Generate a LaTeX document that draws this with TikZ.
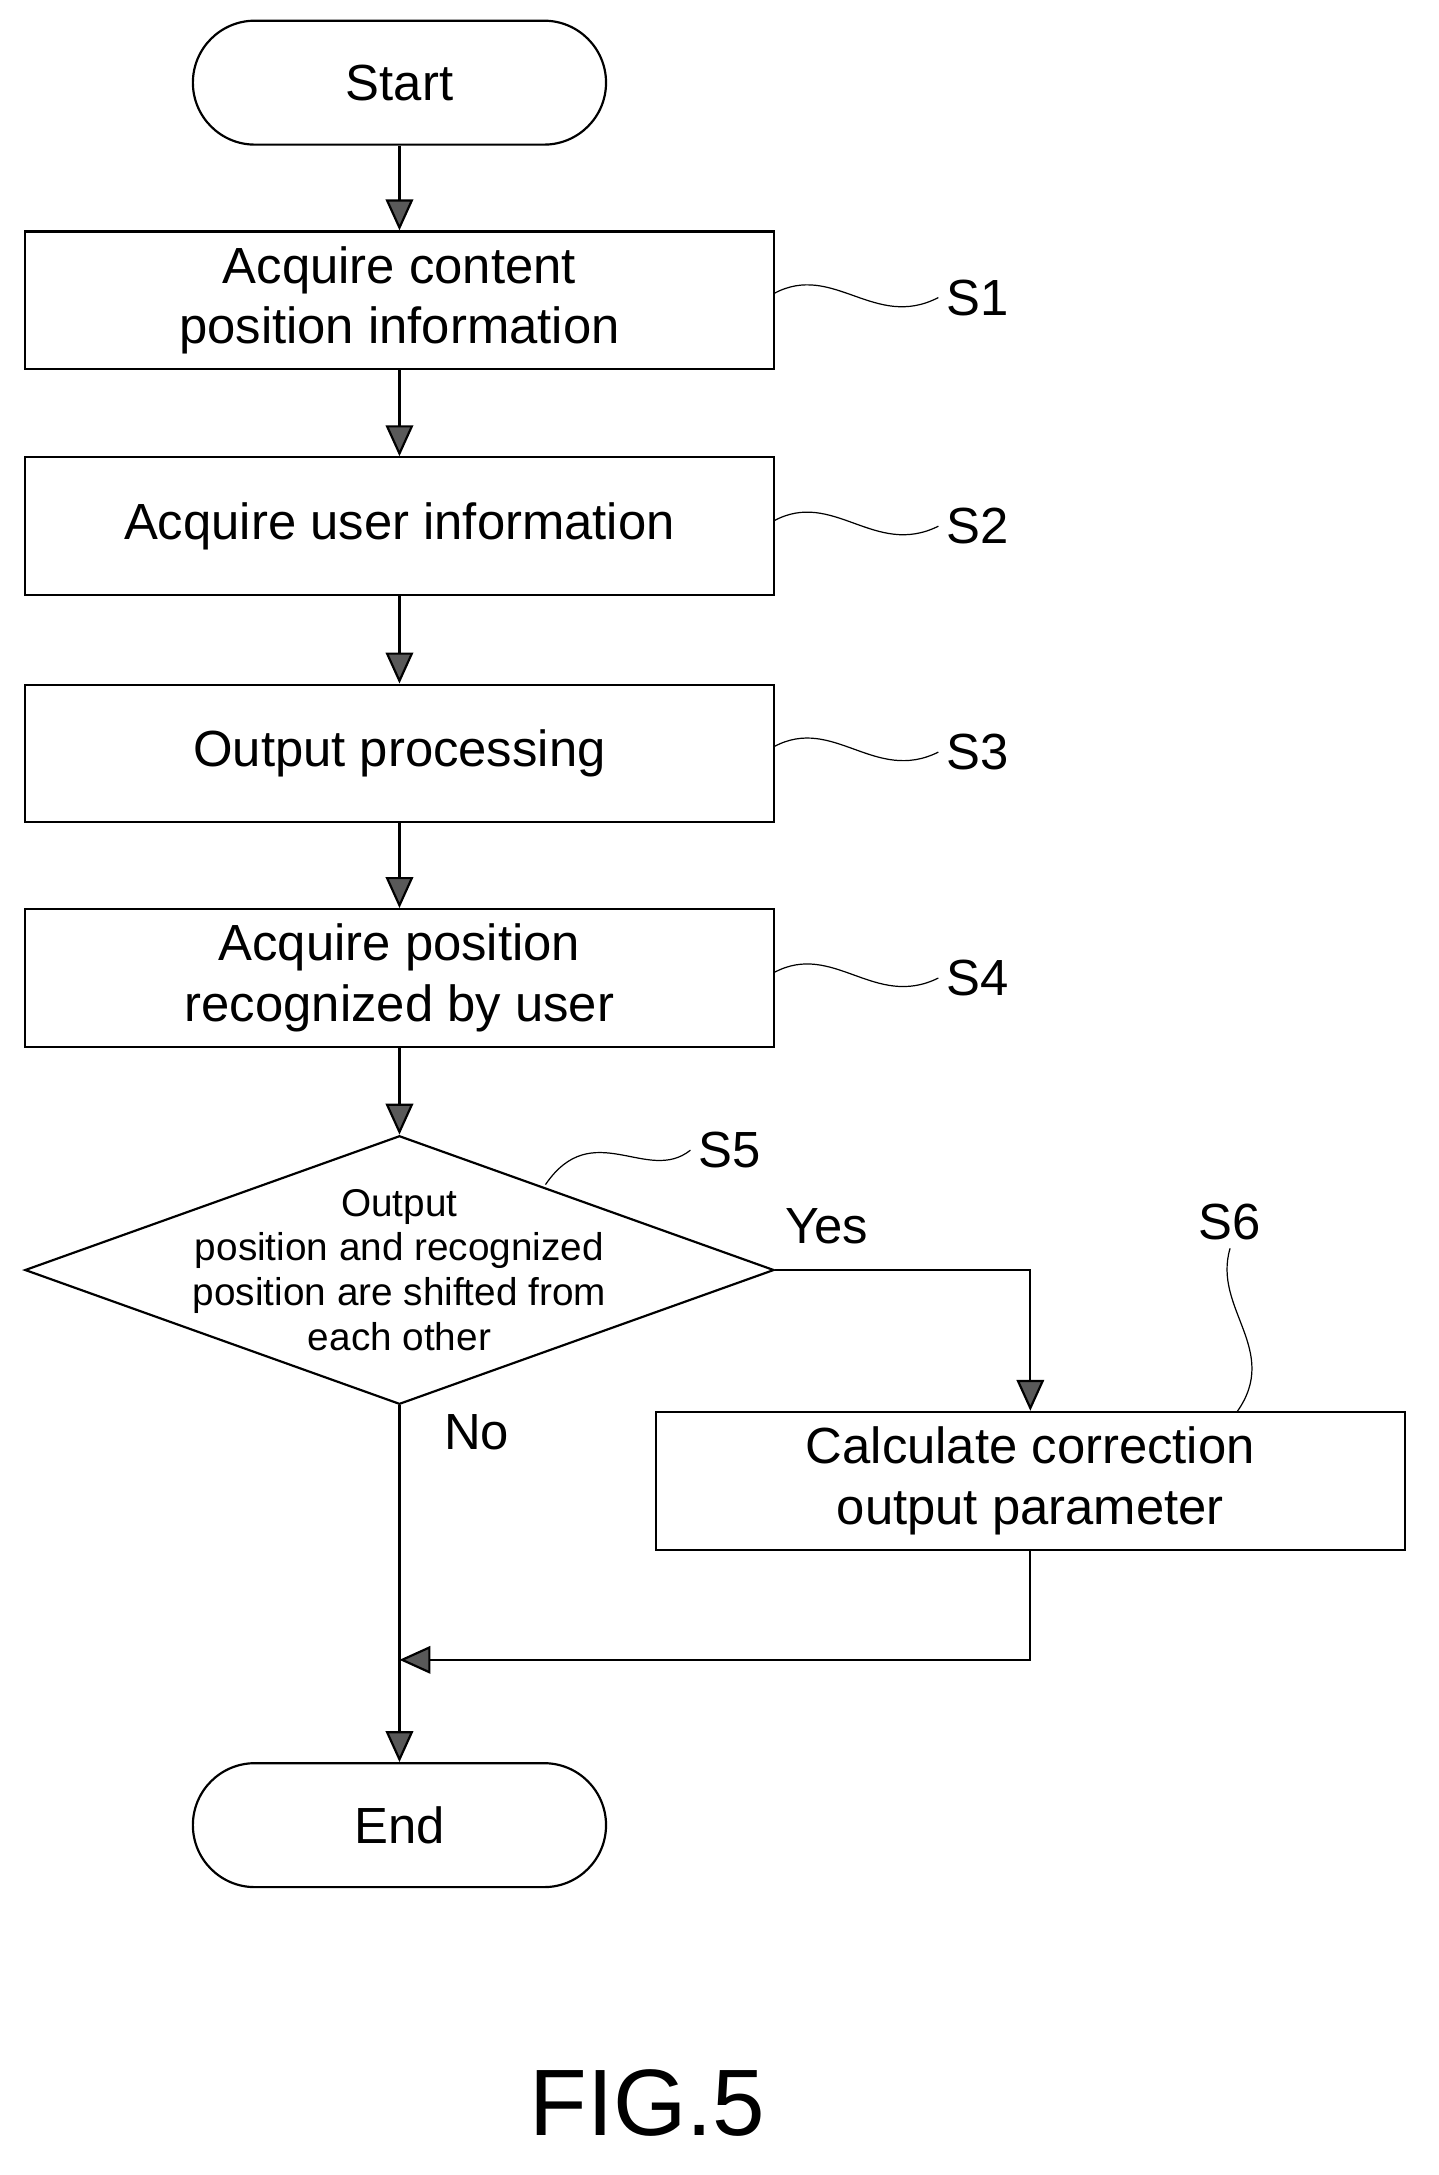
\documentclass[tikz,border=0pt]{standalone}
\usepackage{fontspec}
\setmainfont{Liberation Sans}
\usetikzlibrary{shapes.geometric,arrows.meta,positioning}
\begin{document}
\begin{tikzpicture}[
		x=0.02cm, y=-0.02cm,
		process/.style={draw, line width=0.9pt, minimum width=10.88cm, minimum height=2cm, align=center, font=\fontsize{21}{25}\selectfont},
		term/.style={draw, line width=0.9pt, rounded corners=0.9cm, minimum width=6cm, minimum height=1.8cm, font=\fontsize{21}{25}\selectfont},
		flow/.style={line width=0.9pt, -{Triangle[length=0.45cm, width=0.4cm, fill=gray!70!black]}},
		tag/.style={font=\fontsize{21}{25}\selectfont},
		wave/.style={line width=0.5pt}
	]
	\useasboundingbox (0,0) rectangle (1044,1579);
	% Terminals and steps
	\node[term] (start) at (290,60) {Start};
	\node[process] (s1) at (290,218) {Acquire content\\position information};
	\node[process] (s2) at (290,382) {Acquire user information};
	\node[process] (s3) at (290,547) {Output processing};
	\node[process] (s4) at (290,710) {Acquire position\\recognized by user};
	% Decision
	\node[draw, line width=0.9pt, diamond, minimum width=10.88cm, minimum height=3.9cm, inner sep=0pt] (s5) at (290,922) {};
	\node[align=center, font=\fontsize{16}{18.5}\selectfont] (q) at (s5.center) {Output\\position and recognized\\position are shifted from\\each other};
	\node[process] (s6) at (748,1075) {Calculate correction\\output parameter};
	\node[term] (end) at (290,1325) {End};
	\coordinate (join) at (290,1205);
	% Connectors
	\draw[flow] (start) -- (s1);
	\draw[flow] (s1) -- (s2);
	\draw[flow] (s2) -- (s3);
	\draw[flow] (s3) -- (s4);
	\draw[flow] (s4) -- (s5);
	\draw[flow] (s5.east) -| (s6.north);
	\draw[flow] (s6.south) |- (join);
	\draw[flow] (s5.south) -- (end);
	\node[tag] (yes) at (600,890) {Yes};
	\node[tag] (no) at (346,1040) {No};
	% Step labels
	\node[tag] (l1) at (710,216) {S1};
	\node[tag] (l2) at (710,382) {S2};
	\node[tag] (l3) at (710,546) {S3};
	\node[tag] (l4) at (710,710) {S4};
	\node[tag] (l5) at (530,835) {S5};
	\node[tag] (l6) at (893,887) {S6};
	\foreach \n/\y in {1/213,2/378,3/542,4/706}
		\draw[wave] (562,\y) .. controls (605,190+\y-213) and (635,240+\y-213) .. (l\n.west);
	\draw[wave] (396,860) .. controls (430,810) and (470,860) .. (l5.west);
	\draw[wave] (898,1025) .. controls (930,980) and (880,950) .. (l6.south);
	\node[font=\fontsize{39}{46}\selectfont] (fig) at (470,1527) {FIG.5};
\end{tikzpicture}
\end{document}
